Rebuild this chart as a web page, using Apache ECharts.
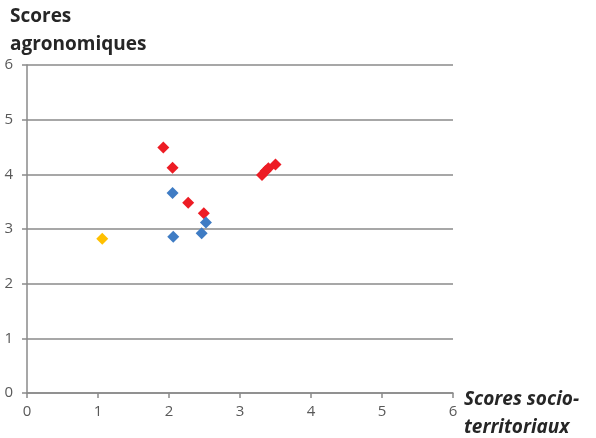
<!DOCTYPE html>
<html><head><meta charset="utf-8">
<script src="https://cdn.jsdelivr.net/npm/echarts@6/dist/echarts.min.js"></script>
<style>html,body{margin:0;padding:0;background:#fff}#c{width:596px;height:438px}</style>
</head><body><div id="c"></div>
<script>
const xTicks = [0,1,2,3,4,5,6];
const yTicks = [0,1,2,3,4,5,6];
const redPoints = [[1.92,4.49],[2.05,4.12],[2.27,3.48],[2.49,3.29],[3.31,3.99],[3.36,4.06],[3.40,4.11],[3.50,4.18]];
const bluePoints = [[2.05,3.66],[2.06,2.86],[2.52,3.12],[2.46,2.92]];
const yellowPoints = [[1.06,2.82]];
const yTitle = 'Scores\nagronomiques';
const xTitle = 'Scores socio-\nterritoriaux';

const chart = echarts.init(document.getElementById('c'));
const font = 'Open Sans';
const mk = (data, color) => ({type:'scatter', symbol:'diamond', symbolSize:12, data, itemStyle:{color, opacity:1}});
chart.setOption({
  animation:false,
  title:[
    {text:yTitle, left:10, top:3, padding:0, textStyle:{fontFamily:font, fontWeight:'bold', fontSize:19, color:'#262626', lineHeight:28}},
    {text:xTitle, left:464, top:386, padding:0, textStyle:{fontFamily:font, fontWeight:'bold', fontStyle:'italic', fontSize:19, color:'#262626', lineHeight:28}}
  ],
  grid:{left:27, right:143, top:65, bottom:45},
  xAxis:{type:'value', min:xTicks[0], max:xTicks[xTicks.length-1], interval:1,
    axisLine:{show:true, onZero:false, lineStyle:{color:'#8a8a8a', width:1.5}},
    axisTick:{show:true, length:5, lineStyle:{color:'#8a8a8a', width:1.5}},
    axisLabel:{fontFamily:font, fontSize:15, color:'#595959', margin:11},
    splitLine:{show:false}},
  yAxis:{type:'value', min:yTicks[0], max:yTicks[yTicks.length-1], interval:1,
    axisLine:{show:true, onZero:false, lineStyle:{color:'#8a8a8a', width:1.5}},
    axisTick:{show:true, length:5, lineStyle:{color:'#8a8a8a', width:1.5}},
    axisLabel:{fontFamily:font, fontSize:15, color:'#595959', margin:14},
    splitLine:{show:true, lineStyle:{color:'#8a8a8a', width:1.5}}},
  series:[mk(redPoints,'#ED1C24'), mk(bluePoints,'#3F7CC4'), mk(yellowPoints,'#FFC000')]
});
</script></body></html>
